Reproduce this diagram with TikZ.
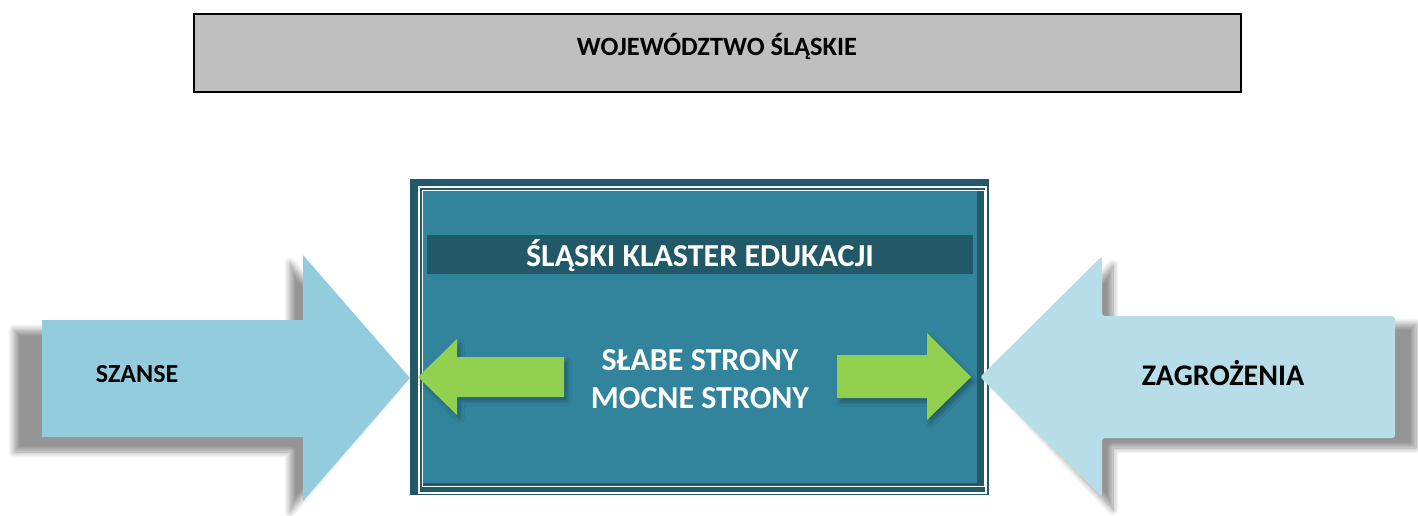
\documentclass[tikz,border=0pt]{standalone}
\usepackage{fontspec}
\setmainfont{Carlito}
\usetikzlibrary{shadows.blur}
\definecolor{topgray}{HTML}{BFBFBF}
\definecolor{darkteal}{HTML}{215968}
\definecolor{midteal}{HTML}{31849B}
\definecolor{arrowgreen}{HTML}{92D050}
\definecolor{blueA}{HTML}{93CDDD}
\definecolor{blueB}{HTML}{B7DEE8}
\begin{document}
\begin{tikzpicture}[x=0.5pt,y=-0.5pt,
  softshade/.style={blur shadow={shadow xshift=0pt, shadow yshift=0pt, shadow opacity=42, shadow blur radius=3pt, shadow blur steps=8}},
  greenshade/.style={blur shadow={shadow xshift=1.5pt, shadow yshift=-2pt, shadow opacity=30, shadow blur radius=2pt, shadow blur steps=6}},
  blacklabel/.style={font=\bfseries, text=black, inner sep=0pt, anchor=base},
  whitelabel/.style={font=\fontsize{16}{19}\selectfont\bfseries, text=white, inner sep=0pt, anchor=base}]
\useasboundingbox (0,0) rectangle (1418,515);

% top box
\draw[fill=topgray, line width=1.2pt] (194,14) rectangle (1241,92);
\node[blacklabel, font=\fontsize{13.2}{15}\selectfont\bfseries] (woj) at (717,55) {WOJEWÓDZTWO ŚLĄSKIE};

% central box
\fill[darkteal] (410,179) rectangle (989,495);
\draw[white, line width=0.6pt] (419,187) rectangle (986,493);
\draw[white, line width=0.4pt] (422,190) rectangle (984,486);
\fill[midteal] (423,191) rectangle (977,483);
\fill[darkteal] (427,235) rectangle (973,274);
\node[whitelabel] (klaster) at (700,266) {ŚLĄSKI KLASTER EDUKACJI};
\node[whitelabel] (slabe) at (700,370) {SŁABE STRONY};
\node[whitelabel] (mocne) at (700,408) {MOCNE STRONY};

% green arrows
\fill[arrowgreen, greenshade] (564,357) -- (457,357) -- (457,339) -- (418,377) -- (457,415) -- (457,397) -- (564,397) -- cycle;
\fill[arrowgreen, greenshade] (837,355) -- (927,355) -- (927,333) -- (971,377) -- (927,420) -- (927,398) -- (837,398) -- cycle;

% left blue arrow (SZANSE)
\path[softshade] (14,330) -- (290,330) -- (290,263) -- (396,388) -- (290,512) -- (290,452) -- (14,452) -- cycle;
\fill[blueA] (42,320) -- (303,320) -- (303,255) -- (410,378) -- (303,501) -- (303,437) -- (42,437) -- cycle;
\node[blacklabel, font=\fontsize{13}{15}\selectfont\bfseries] (szanse) at (137,382) {SZANSE};

% right blue arrow (ZAGROŻENIA)
\path[softshade] (1416,324) -- (1113,324) -- (1113,265) -- (995,386) -- (1113,510) -- (1113,448) -- (1416,448) -- cycle;
\fill[blueB, rounded corners=1.5pt] (1395,316) -- (1102,316) -- (1102,256) -- (980,377) -- (1102,497) -- (1102,438) -- (1395,438) -- cycle;
\node[blacklabel, font=\fontsize{15}{17}\selectfont\bfseries] (zagrozenia) at (1223,385) {ZAGROŻENIA};
\end{tikzpicture}
\end{document}
